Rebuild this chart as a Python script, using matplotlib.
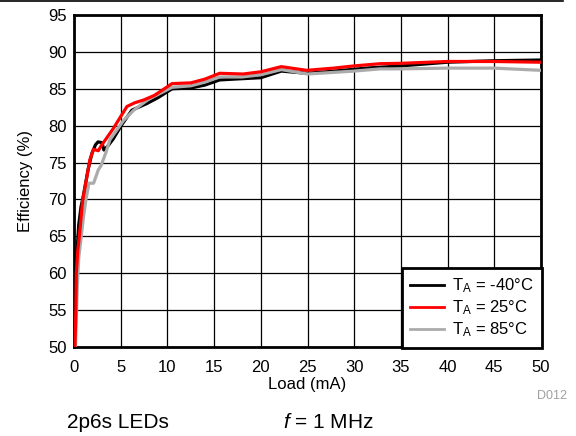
import matplotlib
matplotlib.use("Agg")
import matplotlib.pyplot as plt
from matplotlib.lines import Line2D

plt.rcParams['font.family'] = ['Liberation Sans', 'DejaVu Sans']
plt.rcParams['mathtext.fontset'] = 'custom'
plt.rcParams['mathtext.rm'] = 'Liberation Sans'
plt.rcParams['mathtext.it'] = 'Liberation Sans:italic'

# Data (Load in mA, Efficiency in %)
black_x = [0.1, 0.2, 0.3, 0.5, 0.75, 1.0, 1.5, 1.93, 2.3, 2.57, 3.0, 3.2, 3.6, 4.2, 5.1, 6.2, 7.8, 9.0, 10.5,
           12.5, 14.0, 15.6, 17.0, 20.0, 22.2, 24.9, 27.0, 31.3, 35.0, 40.0, 45.0, 50.0]
black_y = [50.0, 58.0, 62.5, 66.5, 69.0, 70.5, 74.0, 76.3, 77.4, 77.8, 77.7, 76.7, 77.2, 78.2, 80.1, 82.1, 83.0, 83.8, 85.0,
           85.1, 85.5, 86.2, 86.3, 86.5, 87.4, 87.1, 87.3, 87.8, 88.1, 88.6, 88.8, 88.9]

red_x = [0.1, 0.2, 0.25, 0.4, 0.57, 0.93, 1.3, 1.7, 2.1, 2.6, 2.9, 4.2, 5.67, 6.5, 7.5, 8.6, 10.5,
         12.5, 14.0, 15.6, 18.1, 20.0, 22.2, 24.9, 27.8, 30.0, 32.8, 35.0, 40.0, 45.0, 50.0]
red_y = [50.0, 55.0, 60.0, 63.0, 65.0, 69.9, 72.5, 75.4, 76.8, 76.6, 77.25, 79.6, 82.6, 83.1, 83.5, 84.1, 85.7,
         85.8, 86.3, 87.1, 87.0, 87.3, 88.0, 87.5, 87.8, 88.1, 88.4, 88.45, 88.7, 88.7, 88.6]

gray_x = [0.15, 0.35, 0.5, 0.78, 1.0, 1.28, 1.6, 2.1, 2.6, 2.9, 3.4, 3.85, 5.3, 6.4, 8.0, 10.5,
          12.5, 14.0, 15.6, 18.0, 20.0, 22.2, 25.0, 27.5, 30.0, 32.8, 35.0, 40.0, 45.0, 50.0]
gray_y = [50.0, 58.0, 62.0, 65.0, 67.5, 70.0, 72.2, 72.2, 74.0, 74.6, 76.3, 78.1, 80.7, 82.1, 83.6, 85.2,
          85.4, 85.9, 86.6, 86.6, 86.9, 87.6, 87.0, 87.2, 87.4, 87.7, 87.7, 87.8, 87.8, 87.5]

series_labels = ['T$_\\mathregular{A}$ = -40°C', 'T$_\\mathregular{A}$ = 25°C', 'T$_\\mathregular{A}$ = 85°C']
x_ticks = [0, 5, 10, 15, 20, 25, 30, 35, 40, 45, 50]
y_ticks = [50, 55, 60, 65, 70, 75, 80, 85, 90, 95]

fig = plt.figure(figsize=(5.76, 4.36), dpi=100)
ax = fig.add_axes([74/576, 1-347/436, (541-74)/576, (347-15)/436])

ax.plot(black_x, black_y, color='black', lw=2.3, label=series_labels[0], zorder=3)
ax.plot(gray_x, gray_y, color='#ababab', lw=2.3, label=series_labels[2], zorder=4)
ax.plot(red_x, red_y, color='#ff0000', lw=2.3, label=series_labels[1], zorder=5)

ax.set_xlim(0, 50)
ax.set_ylim(50, 95)
ax.set_xticks(x_ticks)
ax.set_yticks(y_ticks)
ax.tick_params(length=0, labelsize=12)
ax.tick_params(axis='x', pad=9)
ax.tick_params(axis='y', pad=5)
ax.grid(True, color='black', lw=0.9)
ax.set_axisbelow(True)
for s in ax.spines.values():
    s.set_linewidth(2)
    s.set_color('black')

ax.set_xlabel('Load (mA)', fontsize=12, labelpad=2)
ax.set_ylabel('Efficiency (%)', fontsize=12, labelpad=11)

handles, labels = ax.get_legend_handles_labels()
order = [0, 2, 1]
leg = ax.legend([handles[i] for i in order], [labels[i] for i in order],
                loc='lower right', bbox_to_anchor=(1.002, -0.002), fontsize=12,
                frameon=True, fancybox=False, framealpha=1, edgecolor='black',
                borderpad=0.5, handlelength=2.0, labelspacing=0.2, handletextpad=0.5,
                borderaxespad=0)
leg.get_frame().set_linewidth(2)
for h in leg.get_lines():
    h.set_linewidth(2)
leg.set_zorder(10)

fig.add_artist(Line2D([0, 563/576], [1-1/436, 1-1/436], color='black', lw=1.2))
fig.text(567/576, 1-396/436, 'D012', color='#a0a0a0', fontsize=9, ha='right', va='center')
fig.text(67/576, 1-422/436, '2p6s LEDs', fontsize=15, ha='left', va='center')
fig.text(283/576, 1-422/436, '$\\mathit{f}$ = 1 MHz', fontsize=15, ha='left', va='center')

fig.savefig('out.png', dpi=100)
